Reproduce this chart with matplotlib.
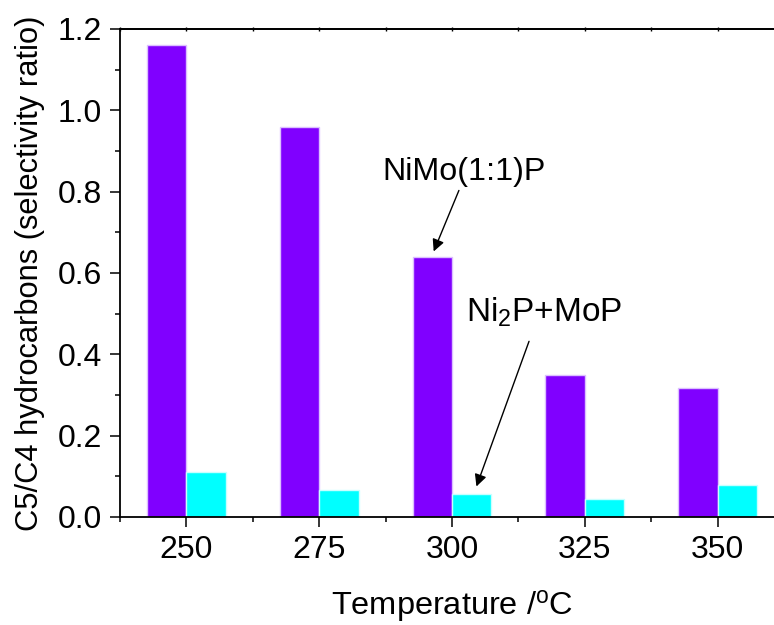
import matplotlib
matplotlib.use("Agg")
import matplotlib.pyplot as plt
import numpy as np
from matplotlib.ticker import MultipleLocator, FormatStrFormatter

plt.rcParams['font.family'] = ['Liberation Sans', 'DejaVu Sans']
plt.rcParams['mathtext.fontset'] = 'custom'
plt.rcParams['mathtext.rm'] = 'Liberation Sans'
plt.rcParams['mathtext.it'] = 'Liberation Sans:italic'

temperatures = [250, 275, 300, 325, 350]
nimo_values = [1.16, 0.96, 0.64, 0.35, 0.318]
ni2p_mop_values = [0.110, 0.066, 0.057, 0.045, 0.078]
series_labels = ["NiMo(1:1)P", "Ni$_\\mathregular{2}$P+MoP"]

fig = plt.figure(figsize=(7.74, 6.25), dpi=100)
# axes: left 120px, right ~784px (beyond the figure), bottom 517px, top 29px
W, H = 774, 625
ax = fig.add_axes([120 / W, (H - 517) / H, (784 - 120) / W, (517 - 29) / H])

x = np.array(temperatures, dtype=float)
w = 7.4
ax.bar(x - w / 2, nimo_values, width=w, color='#8000ff', edgecolor='#dcc0ff', linewidth=1.0)
ax.bar(x + w / 2, ni2p_mop_values, width=w, color='#00ffff', edgecolor='#c8ffff', linewidth=1.0)

ax.set_xlim(237.5, 362.5)
ax.set_ylim(0, 1.2)
ax.set_xticks(temperatures)
ax.xaxis.set_minor_locator(MultipleLocator(12.5))
ax.yaxis.set_major_locator(MultipleLocator(0.2))
ax.yaxis.set_minor_locator(MultipleLocator(0.1))
ax.yaxis.set_major_formatter(FormatStrFormatter('%.1f'))

for s in ax.spines.values():
    s.set_linewidth(1.3)
ax.tick_params(axis='both', which='major', direction='out', length=7.2, width=1.1,
               labelsize=23, pad=5.5)
ax.tick_params(axis='both', which='minor', direction='out', length=3.8, width=1.1)

top = ax.secondary_xaxis('top')
top.set_xticks(temperatures)
top.xaxis.set_minor_locator(MultipleLocator(12.5))
top.tick_params(which='both', direction='inout', length=2.5, width=1.0, labeltop=False)
top.spines['top'].set_linewidth(1.3)

ax.set_xlabel('Temperature /$^\\mathregular{o}$C', fontsize=23.4, labelpad=17)
ax.set_ylabel('C5/C4 hydrocarbons (selectivity ratio)', fontsize=22.2, labelpad=9)

ax.annotate('', xy=(296.55, 0.653), xytext=(301.3, 0.803),
            arrowprops=dict(arrowstyle='-|>', color='black', lw=1.0,
                            mutation_scale=18, shrinkA=0, shrinkB=0))
ax.annotate('', xy=(304.6, 0.075), xytext=(314.5, 0.432),
            arrowprops=dict(arrowstyle='-|>', color='black', lw=1.0,
                            mutation_scale=18, shrinkA=0, shrinkB=0))
ax.text(286.9, 0.829, series_labels[0], fontsize=23.2, ha='left', va='baseline')
ax.text(302.6, 0.481, series_labels[1], fontsize=24.0, ha='left', va='baseline')

fig.savefig('out.png', dpi=100)
